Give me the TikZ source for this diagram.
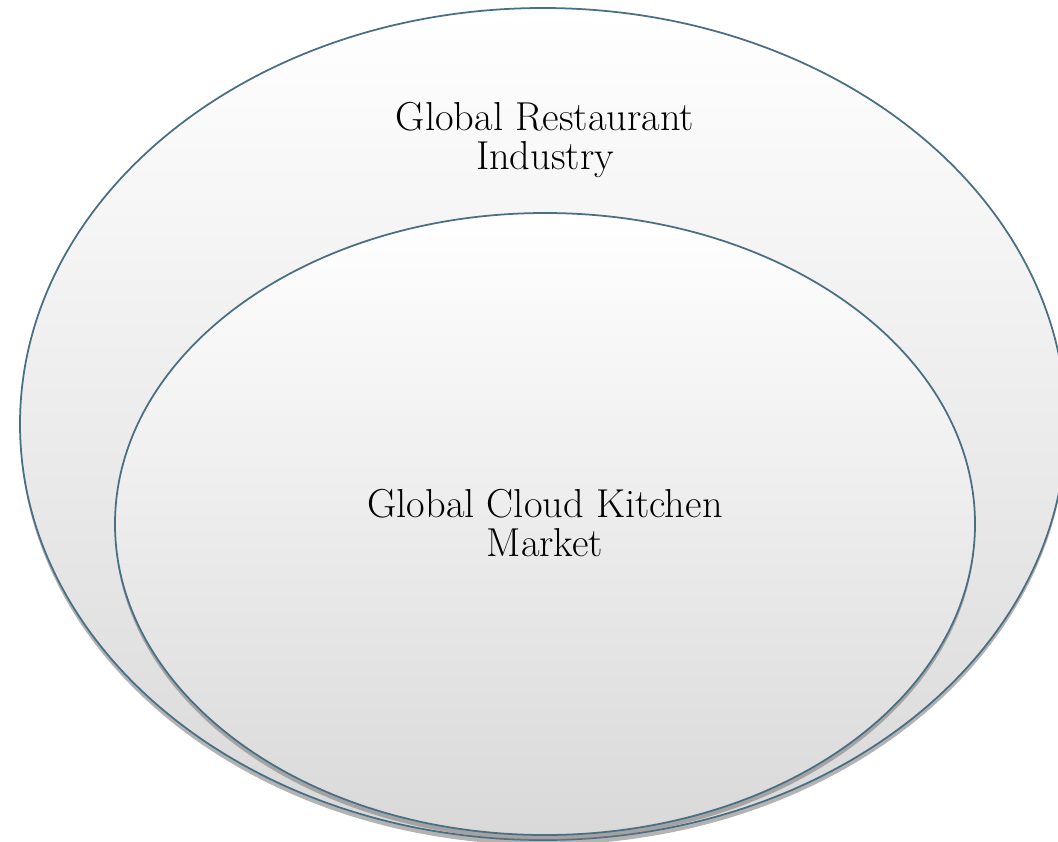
\documentclass[tikz,border=0pt]{standalone}
\usetikzlibrary{shapes.geometric,shadows}
\definecolor{rim}{RGB}{74,110,130}
\begin{document}
\begin{tikzpicture}
	\tikzstyle{ring} = [ellipse,draw=rim,line width=1pt,top color=white,bottom color=black!15,drop shadow={shadow xshift=0cm,shadow yshift=-0.1cm,opacity=0.6}]
	\tikzstyle{caption} = [align=center,font=\fontsize{23}{22.7}\selectfont]
	\useasboundingbox (0,0) rectangle (21.16,-16.82);
	\node[ring,minimum width=20.92cm,minimum height=16.64cm](outer)at (10.86,-8.48){};
	\node[ring,minimum width=17.2cm,minimum height=12.44cm](inner)at (10.9,-10.48){};
	
	\node[caption](t-outer)at (10.9,-2.8){Global Restaurant\\Industry};
	\node[caption](t-inner)at (10.9,-10.46){Global Cloud Kitchen\\Market};
	
	\end{tikzpicture}
\end{document}
